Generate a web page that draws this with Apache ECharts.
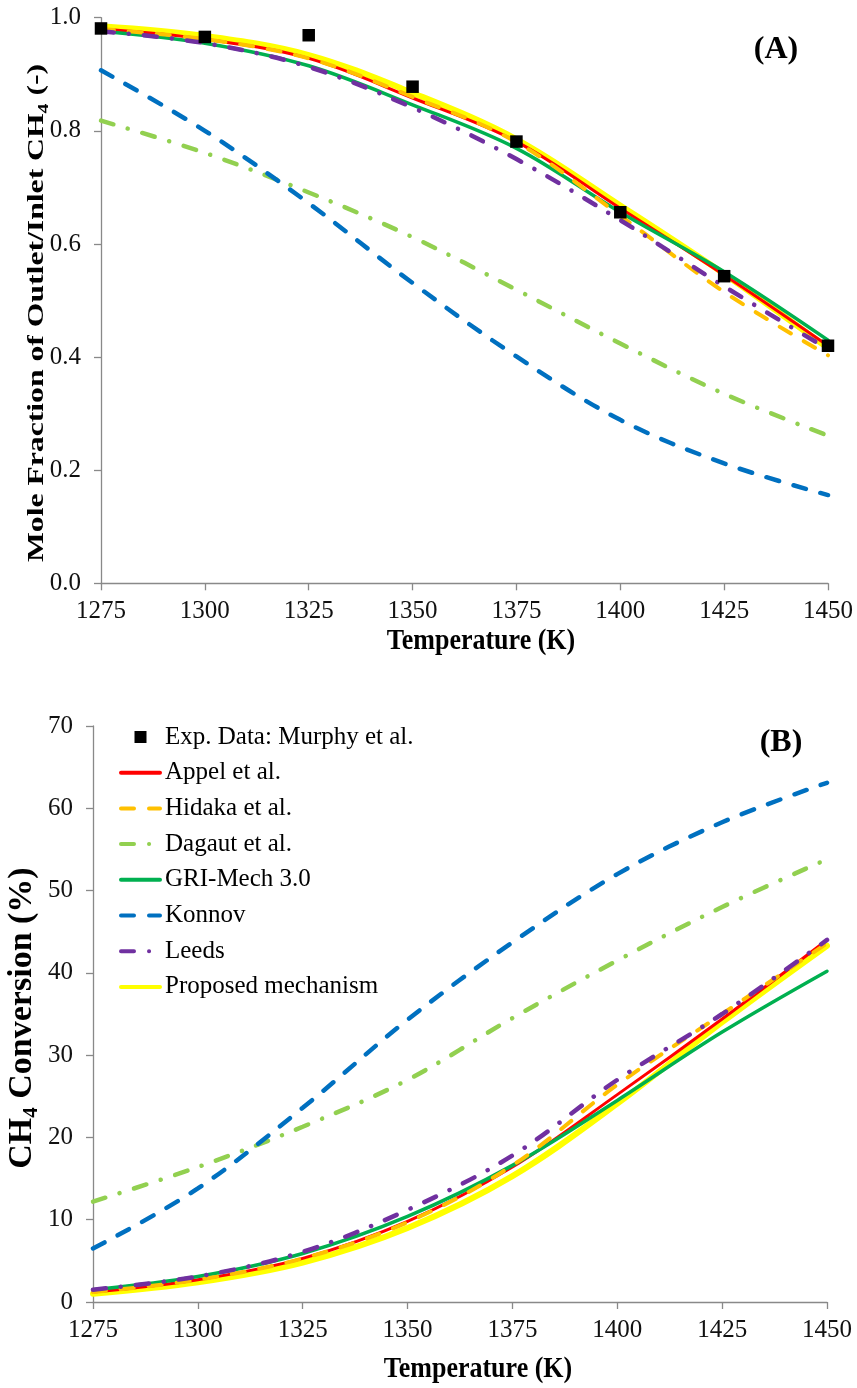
<!DOCTYPE html>
<html>
<head>
<meta charset="utf-8">
<script src="https://cdn.jsdelivr.net/npm/echarts@6/dist/echarts.min.js"></script>
<style>
  html, body { margin: 0; padding: 0; background: #fff; }
  #chart { width: 857px; height: 1388px; }
</style>
</head>
<body>
<div id="chart"></div>
<script>
const temps = [1275, 1300, 1325, 1350, 1375, 1400, 1425, 1450]

// (A) mole fraction outlet/inlet CH4
const expA      = [0.981, 0.966, 0.969, 0.878, 0.781, 0.656, 0.543, 0.420]
const appelA    = [0.980, 0.962, 0.928, 0.858, 0.781, 0.663, 0.545, 0.420]
const hidakaA   = [0.980, 0.962, 0.928, 0.860, 0.780, 0.650, 0.515, 0.403]
const dagautA   = [0.818, 0.761, 0.691, 0.612, 0.519, 0.424, 0.335, 0.261]
const griA      = [0.976, 0.955, 0.915, 0.846, 0.769, 0.656, 0.551, 0.430]
const konnovA   = [0.907, 0.800, 0.672, 0.531, 0.401, 0.289, 0.212, 0.156]
const leedsA    = [0.976, 0.955, 0.913, 0.841, 0.750, 0.642, 0.525, 0.414]
const proposedA = [0.985, 0.968, 0.934, 0.867, 0.785, 0.668, 0.547, 0.416]

// (B) CH4 conversion (%)
const expB      = []
const appelB    = [1.2, 2.7, 5.3, 9.8, 16.4, 25.2, 34.4, 44.0]
const hidakaB   = [1.2, 2.7, 5.3, 9.7, 16.6, 26.4, 35.0, 43.6]
const dagautB   = [12.2, 16.4, 21.3, 27.0, 34.5, 41.5, 48.0, 53.8]
const griB      = [1.5, 3.1, 5.9, 10.4, 16.6, 24.5, 32.8, 40.2]
const konnovB   = [6.5, 13.8, 23.6, 34.3, 43.7, 52.0, 58.3, 63.1]
const leedsB    = [1.5, 3.1, 6.1, 11.2, 17.8, 27.0, 35.0, 44.0]
const proposedB = [1.0, 2.4, 4.8, 9.0, 15.3, 24.1, 34.0, 43.3]

const names = ['Exp. Data: Murphy et al.', 'Appel et al.', 'Hidaka et al.', 'Dagaut et al.',
  'GRI-Mech 3.0', 'Konnov', 'Leeds', 'Proposed mechanism']

const serif = '"Liberation Serif", "Times New Roman", serif'

const styles = {
  'Appel et al.':       { color: '#FF0000', width: 3, type: 'solid', z: 3 },
  'Hidaka et al.':      { color: '#FFC000', width: 4, type: [13, 15], z: 4 },
  'Dagaut et al.':      { color: '#92D050', width: 4.5, type: [13, 15, 0.1, 15], z: 3 },
  'GRI-Mech 3.0':       { color: '#00B050', width: 3.5, type: 'solid', z: 3 },
  'Konnov':             { color: '#0070C0', width: 4.5, type: [13, 15], z: 3 },
  'Leeds':              { color: '#7030A0', width: 4.5, type: [13, 15, 0.1, 15], z: 4 },
  'Proposed mechanism': { color: '#FFFF00', width: 6, type: 'solid', z: 2 },
}

const pairs = (vals) => vals.map((v, i) => [temps[i], v])

const lineSeries = (name, vals, idx) => {
  const s = styles[name]
  return {
    name: name,
    type: 'line',
    xAxisIndex: idx,
    yAxisIndex: idx,
    data: pairs(vals),
    smooth: 0.35,
    symbol: 'none',
    z: s.z,
    color: s.color,
    lineStyle: { color: s.color, width: s.width, type: s.type, cap: 'round' },
    emphasis: { disabled: true },
  }
}

const expSeries = (vals, idx) => ({
  name: names[0],
  type: 'scatter',
  xAxisIndex: idx,
  yAxisIndex: idx,
  data: pairs(vals),
  symbol: 'rect',
  symbolSize: 12.5,
  itemStyle: { color: '#000', opacity: 1 },
  z: 6,
})

const xAxisBase = (idx) => ({
  type: 'value',
  gridIndex: idx,
  min: 1275,
  max: 1450,
  interval: 25,
  splitLine: { show: false },
  axisLine: { lineStyle: { color: '#898989', width: 1.3 } },
  axisTick: { show: true, length: 7, lineStyle: { color: '#898989', width: 1.3 } },
  axisLabel: { color: '#111', fontFamily: serif, fontSize: 25, margin: 16, formatter: (v) => String(v) },
})

const yAxisBase = (idx, max, interval, digits) => ({
  type: 'value',
  gridIndex: idx,
  min: 0,
  max: max,
  interval: interval,
  splitLine: { show: false },
  axisLine: { show: true, lineStyle: { color: '#898989', width: 1.3 } },
  axisTick: { show: true, length: 7, lineStyle: { color: '#898989', width: 1.3 } },
  axisLabel: {
    color: '#111', fontFamily: serif, fontSize: 25, margin: 20,
    formatter: (v) => v.toFixed(digits),
  },
})

const bold = (size) => ({ fontFamily: serif, fontWeight: 'bold', fontSize: size, fill: '#000' })

const titleText = (x, y, text, size, rot, sx, sy) => ({
  type: 'text',
  x: x,
  y: y,
  rotation: rot,
  scaleX: sx,
  scaleY: sy,
  style: Object.assign({
    text: text,
    align: 'center',
    verticalAlign: 'middle',
    lineHeight: size + 6,
    rich: {
      sub: { fontFamily: serif, fontWeight: 'bold', fontSize: Math.round(size * 0.62), lineHeight: Math.round(size * 0.62), verticalAlign: 'bottom' },
    },
  }, bold(size)),
})

const chart = echarts.init(document.getElementById('chart'))

chart.setOption({
  animation: false,
  backgroundColor: '#fff',
  grid: [
    { left: 101, top: 17.7, width: 727, height: 565.6, outerBoundsMode: 'none' },
    { left: 93, top: 726, width: 734, height: 576, outerBoundsMode: 'none' },
  ],
  xAxis: [xAxisBase(0), xAxisBase(1)],
  yAxis: [yAxisBase(0, 1, 0.2, 1), yAxisBase(1, 70, 10, 0)],
  legend: {
    orient: 'vertical',
    left: 119,
    top: 724,
    padding: 0,
    itemWidth: 39,
    itemHeight: 12,
    itemGap: 9.7,
    selectedMode: false,
    itemStyle: { opacity: 0 },
    lineStyle: { width: 4 },
    textStyle: { fontFamily: serif, fontSize: 25, color: '#000', lineHeight: 26 },
    data: names.map((n, i) => i === 0
      ? { name: n, icon: 'path://M0 0H10V10H0Z', itemStyle: { opacity: 1, color: '#000' } }
      : { name: n }),
  },
  graphic: [
    titleText(37, 313, 'Mole Fraction of Outlet/Inlet CH{sub|4} (-)', 24, Math.PI / 2, 1.32, 1),
    titleText(481, 641, 'Temperature (K)', 26, 0, 1, 1.15),
    titleText(776, 50, '(A)', 32, 0, 1, 1),
    titleText(22.5, 1018, 'CH{sub|4} Conversion (%)', 34, Math.PI / 2, 1, 1),
    titleText(478, 1369, 'Temperature (K)', 26, 0, 1, 1.15),
    titleText(781, 743, '(B)', 32, 0, 1, 1),
  ],
  series: [
    lineSeries('Proposed mechanism', proposedA, 0),
    lineSeries('Appel et al.', appelA, 0),
    lineSeries('Hidaka et al.', hidakaA, 0),
    lineSeries('Dagaut et al.', dagautA, 0),
    lineSeries('GRI-Mech 3.0', griA, 0),
    lineSeries('Konnov', konnovA, 0),
    lineSeries('Leeds', leedsA, 0),
    expSeries(expA, 0),

    lineSeries('Proposed mechanism', proposedB, 1),
    lineSeries('Appel et al.', appelB, 1),
    lineSeries('Hidaka et al.', hidakaB, 1),
    lineSeries('Dagaut et al.', dagautB, 1),
    lineSeries('GRI-Mech 3.0', griB, 1),
    lineSeries('Konnov', konnovB, 1),
    lineSeries('Leeds', leedsB, 1),
    expSeries(expB, 1),
  ],
})
</script>
</body>
</html>
